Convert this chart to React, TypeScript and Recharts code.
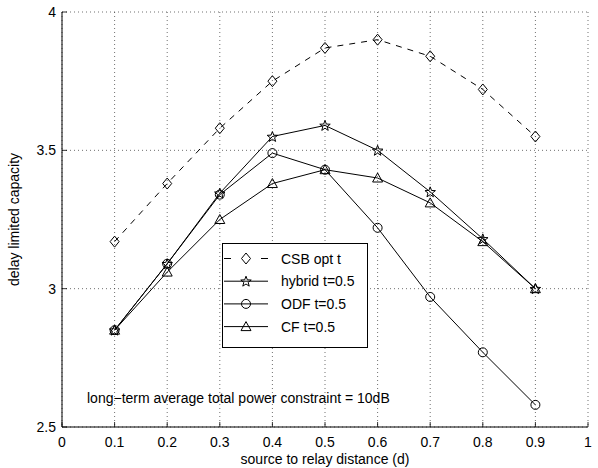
import { LineChart, Line, XAxis, YAxis, CartesianGrid, Legend, Customized } from "recharts";

const DISTANCE = [0.1, 0.2, 0.3, 0.4, 0.5, 0.6, 0.7, 0.8, 0.9];
const CSB = [3.17, 3.38, 3.58, 3.75, 3.87, 3.9, 3.84, 3.72, 3.55];
const HYBRID = [2.85, 3.09, 3.345, 3.55, 3.59, 3.5, 3.35, 3.18, 3.0];
const ODF = [2.85, 3.09, 3.34, 3.49, 3.43, 3.22, 2.97, 2.77, 2.58];
const CF = [2.85, 3.06, 3.25, 3.38, 3.43, 3.4, 3.31, 3.17, 3.0];

const X_TICKS = [0, 0.1, 0.2, 0.3, 0.4, 0.5, 0.6, 0.7, 0.8, 0.9, 1];
const Y_TICKS = [2.5, 3, 3.5, 4];

const SERIES = [
  { key: "csb", name: "CSB opt t", marker: "diamond", dashed: true },
  { key: "hybrid", name: "hybrid t=0.5", marker: "star", dashed: false },
  { key: "odf", name: "ODF t=0.5", marker: "circle", dashed: false },
  { key: "cf", name: "CF t=0.5", marker: "triangle", dashed: false },
];

const data = DISTANCE.map((d, i) => ({
  d,
  csb: CSB[i],
  hybrid: HYBRID[i],
  odf: ODF[i],
  cf: CF[i],
}));

const FONT = "'Liberation Sans', Arial, Helvetica, sans-serif";
const FS = 14;

function starPoints(cx: number, cy: number, ro: number, ri: number) {
  const pts: string[] = [];
  for (let k = 0; k < 10; k++) {
    const r = k % 2 === 0 ? ro : ri;
    const a = -Math.PI / 2 + (k * Math.PI) / 5;
    pts.push(`${cx + r * Math.cos(a)},${cy + r * Math.sin(a)}`);
  }
  return pts.join(" ");
}

function Marker({ type, cx, cy }: { type: string; cx: number; cy: number }) {
  const common = { fill: "none", stroke: "#000", strokeWidth: 1 };
  if (type === "diamond") {
    return <polygon points={`${cx},${cy - 5.5} ${cx + 4.5},${cy} ${cx},${cy + 5.5} ${cx - 4.5},${cy}`} {...common} />;
  }
  if (type === "star") {
    return <polygon points={starPoints(cx, cy + 0.5, 5.5, 2.3)} {...common} />;
  }
  if (type === "circle") {
    return <circle cx={cx} cy={cy} r={4.5} {...common} />;
  }
  return <polygon points={`${cx},${cy - 5} ${cx + 5},${cy + 4} ${cx - 5},${cy + 4}`} {...common} />;
}

const dotFor = (type: string) => (props: any) => {
  const { cx, cy, index } = props;
  if (cx == null || cy == null) return <g key={`${type}-${index}`} />;
  return (
    <g key={`${type}-${index}`}>
      <Marker type={type} cx={cx} cy={cy} />
    </g>
  );
};

const BottomTick = (props: any) => {
  const { x, y, payload } = props;
  return (
    <g>
      <line x1={x} x2={x} y1={y} y2={y - 5} stroke="#000" strokeWidth={0.8} />
      <text x={x} y={y + 20} textAnchor="middle" fontSize={FS} fontFamily={FONT} fill="#000">
        {payload.value}
      </text>
    </g>
  );
};

const TopTick = (props: any) => {
  const { x, y } = props;
  return <line x1={x} x2={x} y1={y} y2={y + 5} stroke="#000" strokeWidth={0.8} />;
};

const LeftTick = (props: any) => {
  const { x, y, payload } = props;
  return (
    <g>
      <line x1={x} x2={x + 5} y1={y} y2={y} stroke="#000" strokeWidth={0.8} />
      <text x={x - 6} y={y + 5} textAnchor="end" fontSize={FS} fontFamily={FONT} fill="#000">
        {payload.value}
      </text>
    </g>
  );
};

const RightTick = (props: any) => {
  const { x, y } = props;
  return <line x1={x} x2={x - 5} y1={y} y2={y} stroke="#000" strokeWidth={0.8} />;
};

function LegendBox() {
  const rowH = 22.7;
  return (
    <svg width={146} height={105} style={{ display: "block" }}>
      <rect x={0.5} y={0.5} width={145} height={104} fill="#fff" stroke="#000" strokeWidth={1} />
      {SERIES.map((s, i) => {
        const cy = 15.5 + i * rowH;
        return (
          <g key={s.key}>
            {s.dashed ? (
              <>
                <line x1={2} x2={9} y1={cy} y2={cy} stroke="#000" strokeWidth={1} />
                <line x1={39} x2={46} y1={cy} y2={cy} stroke="#000" strokeWidth={1} />
              </>
            ) : (
              <line x1={2} x2={46} y1={cy} y2={cy} stroke="#000" strokeWidth={1} />
            )}
            <Marker type={s.marker} cx={24} cy={cy} />
            <text x={59} y={cy + 5} fontSize={FS} fontFamily={FONT} fill="#000">
              {s.name}
            </text>
          </g>
        );
      })}
    </svg>
  );
}

export default function App() {
  return (
    <div style={{ position: "absolute", left: 0, top: 0, width: 598, height: 468, background: "#fff" }}>
      <LineChart width={598} height={468} data={data} margin={{ top: 12, right: 10, bottom: 0, left: 0 }}>
        <CartesianGrid stroke="#333" strokeDasharray="1 3" strokeWidth={0.7} />
        <XAxis
          dataKey="d"
          type="number"
          domain={[0, 1]}
          ticks={X_TICKS}
          interval={0}
          height={41}
          tickSize={0}
          tickMargin={0}
          tickLine={false}
          tick={<BottomTick />}
          axisLine={{ stroke: "#000", strokeWidth: 1 }}
          label={{ value: "source to relay distance (d)", position: "insideBottom", offset: 4, fontSize: FS, fontFamily: FONT, fill: "#000" }}
        />
        <XAxis
          xAxisId="top"
          orientation="top"
          dataKey="d"
          type="number"
          domain={[0, 1]}
          ticks={X_TICKS}
          interval={0}
          height={0}
          tickSize={0}
          tickMargin={0}
          tickLine={false}
          tick={<TopTick />}
          axisLine={{ stroke: "#000", strokeWidth: 1 }}
        />
        <YAxis
          type="number"
          domain={[2.5, 4]}
          ticks={Y_TICKS}
          interval={0}
          width={62}
          tickSize={0}
          tickMargin={0}
          tickLine={false}
          tick={<LeftTick />}
          axisLine={{ stroke: "#000", strokeWidth: 1 }}
          label={{ value: "delay limited capacity", angle: -90, position: "insideLeft", offset: 14, style: { textAnchor: "middle" }, fontSize: FS, fontFamily: FONT, fill: "#000" }}
        />
        <YAxis
          yAxisId="r"
          orientation="right"
          type="number"
          domain={[2.5, 4]}
          ticks={Y_TICKS}
          interval={0}
          width={0}
          tickSize={0}
          tickMargin={0}
          tickLine={false}
          tick={<RightTick />}
          axisLine={{ stroke: "#000", strokeWidth: 1 }}
        />
        {SERIES.map((s) => (
          <Line
            key={s.key}
            dataKey={s.key}
            name={s.name}
            stroke="#000"
            strokeWidth={1}
            strokeDasharray={s.dashed ? "6 6" : undefined}
            dot={dotFor(s.marker)}
            activeDot={false}
            isAnimationActive={false}
          />
        ))}
        <Legend
          layout="vertical"
          align="center"
          verticalAlign="middle"
          content={() => <LegendBox />}
          wrapperStyle={{ left: 222, top: 243, width: 146, height: 105 }}
        />
        <Customized
          component={() => (
            <text x={87} y={403} fontSize={FS} fontFamily={FONT} fill="#000">
              long−term average total power constraint = 10dB
            </text>
          )}
        />
      </LineChart>
    </div>
  );
}
